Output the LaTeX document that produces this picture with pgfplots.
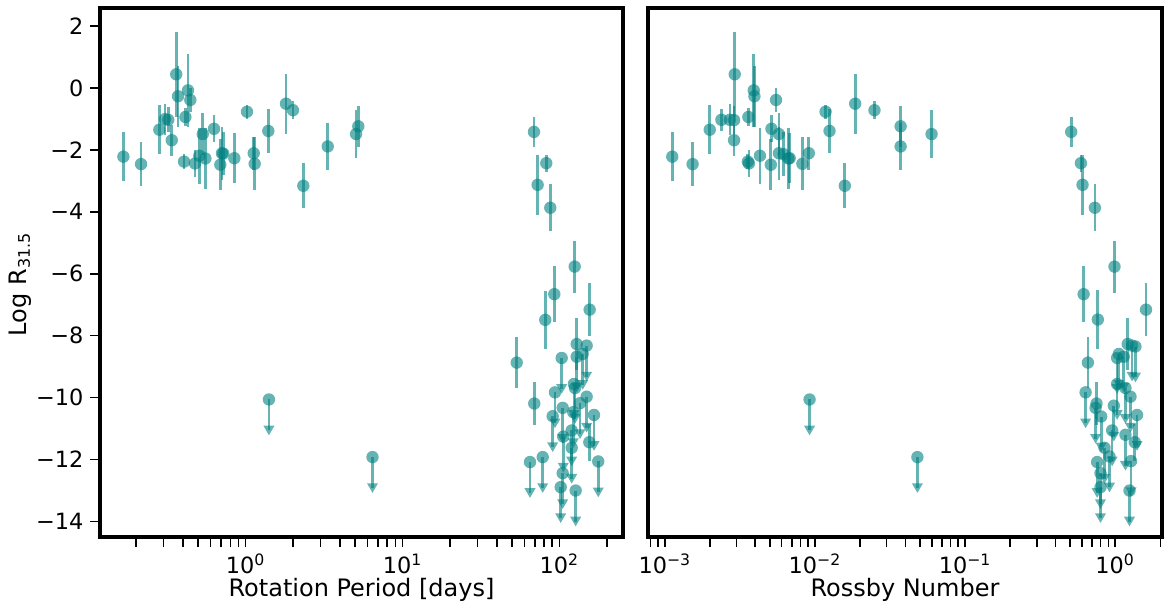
\documentclass[border=0pt]{standalone}
\usepackage{fontspec}
\setmainfont{DejaVu Sans}
\usepackage{pgfplots}
\pgfplotsset{compat=1.18}

\pgfplotsset{
  panel/.style={
    scale only axis, height=264.5pt,
    ymin=-14.5, ymax=2.58,
    axis line style={line width=1.6pt},
    tick align=outside,
    major tick length=4.8pt, minor tick length=4.8pt,
    every tick/.style={black, line width=0.8pt},
    tick label style={font=\fontsize{11.2}{13}\selectfont},
    label style={font=\fontsize{12}{14}\selectfont},
    xlabel style={at={(axis description cs:0.5,-0.1134)}, anchor=base},
  },
  det/.style={only marks, mark=*, mark size=3.1pt,
    mark options={draw=teal, draw opacity=0, fill=teal, fill opacity=0.6},
    error bars/y dir=both, error bars/y explicit,
    error bars/error bar style={line width=1.35pt, teal, opacity=0.6},
    error bars/error mark=none},
  lim/.style={only marks, mark=*, mark size=3.1pt,
    mark options={draw=teal, draw opacity=0, fill=teal, fill opacity=0.6},
    error bars/y dir=minus, error bars/y fixed=1,
    error bars/error bar style={line width=1.35pt, teal, opacity=0.6},
    error bars/error mark=triangle*,
    error bars/error mark options={rotate=-90, mark size=3.2pt, draw=teal, draw opacity=0, fill=teal, fill opacity=0.6}},
}

\begin{document}
\begin{tikzpicture}
\path[use as bounding box] (-50pt,-33pt) rectangle (533pt,268.5pt);

% rotation period
\begin{axis}[panel, xmode=log, at={(0pt,0pt)}, anchor=south west, width=261.5pt,
  xmin=0.1183, xmax=253.9,
  tick pos=left,
  xtick={1,10,100},
  xticklabels={10\textsuperscript{0},10\textsuperscript{1},10\textsuperscript{2}},
  minor xtick={0.2,0.3,0.4,0.5,0.6,0.7,0.8,0.9,2,3,4,5,6,7,8,9,20,30,40,50,60,70,80,90,200},
  ytick={-14,-12,-10,-8,-6,-4,-2,0,2},
  yticklabels={−14,−12,−10,−8,−6,−4,−2,0,2},
  xlabel={Rotation Period [days]},
  ylabel={Log R\textsubscript{31.5}},
  ylabel style={at={(axis description cs:-0.153,0.478)}, anchor=center},
]
\addplot[det] table[x=x, y=y, y error=e] {
x y e
0.1667 -2.22 0.80
0.216 -2.46 0.72
0.2825 -1.35 0.80
0.307 -1.01 0.50
0.322 -1.03 0.40
0.339 -1.69 0.50
0.362 0.44 1.38
0.3715 -0.27 0.98
0.414 -0.94 0.30
0.406 -2.38 0.25
0.430 -0.08 1.18
0.445 -0.39 0.38
0.477 -2.44 0.43
0.508 -2.19 0.90
0.534 -1.49 0.67
0.555 -2.28 1.00
0.630 -1.32 0.43
0.708 -2.11 0.86
0.691 -2.48 0.83
0.722 -2.12 0.70
0.849 -2.27 0.81
1.022 -0.77 0.23
1.128 -2.11 0.54
1.144 -2.45 0.85
1.397 -1.39 0.72
1.811 -0.51 0.97
2.006 -0.72 0.30
2.334 -3.16 0.73
3.34 -1.89 0.77
5.06 -1.49 0.78
5.23 -1.24 0.67
68.8 -1.42 0.48
82.4 -2.43 0.27
72.6 -3.13 0.97
87.4 -3.87 0.76
125.0 -5.77 0.84
92.7 -6.66 0.91
155.7 -7.16 0.86
81.2 -7.49 0.94
53.4 -8.87 0.82
69.1 -10.19 0.71
128.7 -8.27 0.84
154.9 -11.44 0.60
};
\addplot[lim] table[x=x, y=y] {
x y
1.41 -10.06
6.44 -11.92
149.0 -8.32
140.5 -8.59
128.7 -8.68
103.3 -8.72
123.7 -9.56
125.6 -9.69
93.6 -9.83
149.0 -9.97
135.1 -10.18
104.8 -10.33
90.5 -10.60
165.9 -10.56
122.4 -10.47
119.6 -11.06
105.7 -11.26
119.6 -11.62
64.9 -12.08
78.2 -11.92
176.6 -12.06
104.8 -12.44
101.8 -12.89
126.8 -13.00
};
\end{axis}

% Rossby number
\begin{axis}[panel, xmode=log, at={(274pt,0pt)}, anchor=south west, width=257pt,
  xmin=7.72e-4, xmax=2.05,
  xtick pos=bottom,
  ytick=\empty,
  xtick={0.001,0.01,0.1,1},
  xticklabels={10\textsuperscript{−3},10\textsuperscript{−2},10\textsuperscript{−1},10\textsuperscript{0}},
  minor xtick={8e-4,9e-4,2e-3,3e-3,4e-3,5e-3,6e-3,7e-3,8e-3,9e-3,0.02,0.03,0.04,0.05,0.06,0.07,0.08,0.09,0.2,0.3,0.4,0.5,0.6,0.7,0.8,0.9,2},
  xlabel={Rossby Number},
]
\addplot[det] table[x=x, y=y, y error=e] {
x y e
1.12e-3 -2.22 0.80
1.53e-3 -2.46 0.72
1.99e-3 -1.35 0.80
2.38e-3 -1.03 0.35
2.71e-3 -1.03 0.50
2.89e-3 -1.04 0.45
2.92e-3 0.44 1.38
2.89e-3 -1.69 0.50
3.91e-3 -0.08 1.18
3.95e-3 -0.27 0.98
3.60e-3 -0.94 0.30
3.57e-3 -2.38 0.25
3.63e-3 -2.44 0.43
4.30e-3 -2.19 0.90
5.50e-3 -0.39 0.38
5.13e-3 -1.32 0.43
5.08e-3 -2.48 0.83
5.75e-3 -1.49 0.67
5.75e-3 -2.11 0.86
6.18e-3 -2.14 0.70
6.65e-3 -2.28 1.00
6.78e-3 -2.27 0.81
8.24e-3 -2.45 0.85
9.10e-3 -2.11 0.54
0.01176 -0.77 0.23
0.0125 -1.39 0.72
0.0158 -3.16 0.73
0.01853 -0.51 0.97
0.0249 -0.72 0.30
0.0372 -1.24 0.67
0.0372 -1.89 0.77
0.0598 -1.49 0.78
0.509 -1.42 0.48
0.591 -2.43 0.27
0.606 -3.13 0.97
0.732 -3.87 0.76
0.989 -5.77 0.84
0.616 -6.66 0.91
1.604 -7.16 0.86
0.766 -7.48 0.94
0.658 -8.87 0.82
0.751 -10.19 0.71
1.212 -8.27 0.84
1.35 -11.44 0.60
};
\addplot[lim] table[x=x, y=y] {
x y
9.2e-3 -10.06
0.0481 -11.92
0.635 -9.83
0.740 -10.33
1.295 -8.32
1.364 -8.35
1.057 -8.59
1.03 -8.72
1.14 -8.68
1.03 -9.56
1.17 -9.69
1.264 -9.97
0.979 -10.26
1.398 -10.56
0.806 -10.61
0.954 -11.06
1.17 -11.20
0.849 -11.62
0.916 -11.90
0.758 -12.08
1.275 -12.05
0.798 -12.44
0.798 -12.89
1.245 -13.00
};
\end{axis}
\end{tikzpicture}
\end{document}
